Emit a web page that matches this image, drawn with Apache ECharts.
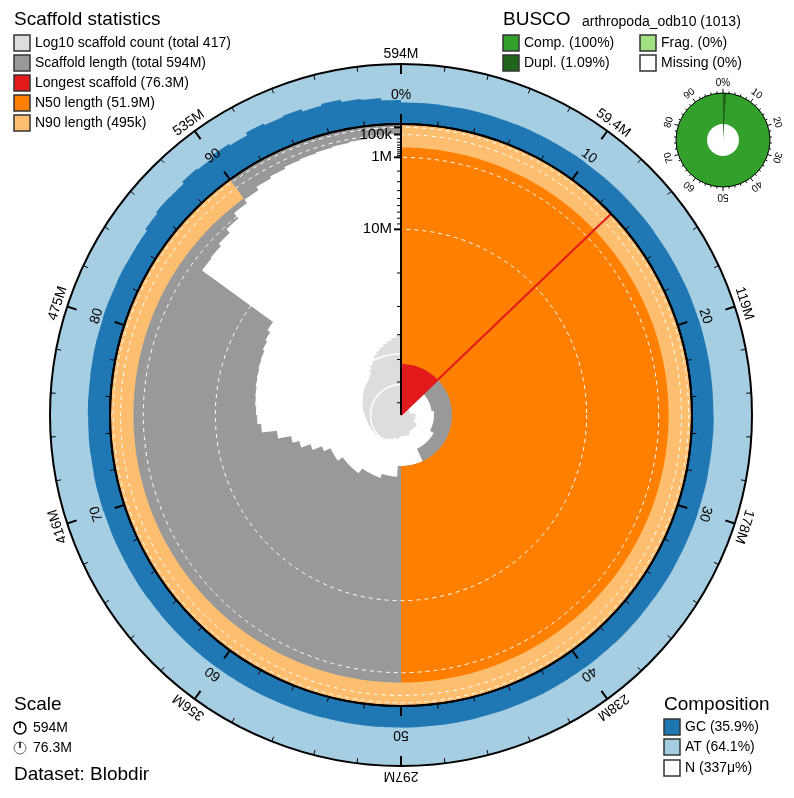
<!DOCTYPE html>
<html>
<head>
<meta charset="utf-8">
<script src="https://cdn.jsdelivr.net/npm/echarts@6/dist/echarts.min.js"></script>
<style>
html, body { margin: 0; padding: 0; background: #fff; }
#chart { width: 794px; height: 798px; }
</style>
</head>
<body>
<div id="chart"></div>
<script>
// assembly summary
var longestMb = 76.3;
var n50Mb = 51.9;
var n90Mb = 0.495;
var longestPct = 12.84;

// scaffold length (Mb) at each 1% of the assembly
var lengthByPct = [
  76.3, 76.3, 76.3, 76.3, 76.3, 76.3, 76.3, 76.3, 76.3, 76.3, 76.3, 76.3, 76.3,
  61, 61, 61, 61, 61, 61, 61, 61, 61, 61,
  60, 60, 60, 60, 60, 60, 60, 60, 60, 60,
  58, 58, 58, 58, 58, 58, 58, 58, 58, 58,
  51.9, 51.9, 51.9, 51.9, 51.9, 51.9, 51.9, 51.9,
  47.3, 47.3, 47.3, 47.3,
  45.6, 45.6, 45.6, 45.6, 45.6, 43.2, 43.2, 43.2, 43.2, 43.2,
  40.9, 40.9, 40.9, 38.2, 34.6, 31.2, 28.9, 24.8, 20.5, 19.5,
  19.2, 18.9, 18.7, 18.4, 18.2, 17.9, 17.7, 17.2, 16.7, 15.9,
  1.83, 1.75, 1.51, 1.17, 0.76, 0.56, 0.40, 0.325, 0.26, 0.23,
  0.203, 0.177, 0.152, 0.13, 0.09
];

// cumulative scaffold count at each 1% (log10 spiral)
var countByPct = [
  1, 1, 1, 1, 1, 1, 1, 1, 1, 1, 1, 1, 1,
  2, 2, 2, 2, 2, 2, 2, 2, 2, 2,
  3, 3, 3, 3, 3, 3, 3, 3, 3, 3,
  4, 4, 4, 4, 4, 4, 4, 4, 4, 4,
  5, 5, 5, 5, 5, 5, 5, 5,
  6, 6, 6, 6,
  7, 7, 8, 8, 9, 9, 10, 10, 10, 11, 11, 11, 12, 12, 12, 13, 13, 14, 14,
  15, 16, 17, 18, 19, 20, 22, 23, 25, 27, 29, 31, 33, 35, 38,
  45, 60, 80, 105, 135, 165, 200, 240, 285, 340, 417
];

// GC % at each 1%
var gcByPct = [
  35.8, 36.0, 35.7, 36.1, 35.9, 35.6, 36.0,
  35.9, 35.8, 36.2, 35.7, 35.9, 36.0, 35.8,
  36.1, 35.6, 35.9, 35.8, 36.0, 35.7, 36.1,
  35.9, 36.0, 35.8, 35.6, 36.2, 35.9, 35.7,
  36.0, 35.8, 36.1, 35.9, 35.7, 36.0, 35.8,
  35.6, 35.9, 36.1, 35.8, 36.0, 35.7, 35.9,
  36.2, 35.8, 35.9, 35.7, 36.0, 35.9, 35.6,
  36.1, 35.8, 36.0, 35.9, 35.7, 36.1, 35.8,
  35.9, 36.0, 35.7, 35.8, 36.2, 35.9, 36.0,
  35.8, 35.6, 36.1, 35.9, 35.8, 36.0, 35.7,
  36.3, 36.6, 36.2, 36.8, 36.5, 37.0, 36.7,
  37.2, 37.5, 37.1, 37.8, 37.4, 38.0, 37.6,
  38, 42, 45, 44, 48, 46, 50, 47, 52, 49, 51, 47, 50, 46, 44, 40
];

var gridMb = [0.01, 0.1, 1, 10];
var radialMajorMb = [0.01, 0.1, 1, 10];
var radialMajorLabels = ['', '100k', '1M', '10M'];
var radialMinorMb = [0.2, 0.3, 0.4, 0.5, 0.6, 0.7, 0.8, 0.9, 2, 3, 4, 5, 6, 7, 8, 9, 20, 30, 40, 50, 60, 70];
var countGrid = [10, 100];

var pctTicks = [0, 10, 20, 30, 40, 50, 60, 70, 80, 90];
var pctLabels = ['0%', '10', '20', '30', '40', '50', '60', '70', '80', '90'];
var lengthLabels = ['594M', '59.4M', '119M', '178M', '238M', '297M', '356M', '416M', '475M', '535M'];

var buscoDuplPct = 1.09;

var FONT = '"Liberation Sans", Arial, sans-serif';
var C = {
  count: '#dddddd', length: '#999999', longest: '#e31a1c', n50: '#ff7f00', n90: '#fdbf6f',
  gc: '#1f78b4', at: '#a6cee3', comp: '#33a02c', dupl: '#20641c', frag: '#a3e283'
};

function toU(mb) { return 1 - Math.sqrt(mb / longestMb); }

function arcPts(api, rv, a0, a1) {
  var n = Math.max(2, Math.ceil(Math.abs(a1 - a0) / 0.25) + 1);
  var pts = [];
  for (var k = 0; k < n; k++) pts.push(api.coord([rv, a0 + (a1 - a0) * k / (n - 1)]));
  return pts;
}
function band(api, a0, a1, r0, r1) {
  return arcPts(api, r1, a0, a1).concat(arcPts(api, r0, a1, a0));
}
function pxR(api, cs, rv) {
  var p = api.coord([rv, 0]);
  return Math.sqrt((p[0] - cs.cx) * (p[0] - cs.cx) + (p[1] - cs.cy) * (p[1] - cs.cy));
}
function labelAt(api, cs, refR, av, rpx, text, size) {
  var p = api.coord([refR, av]);
  var dx = p[0] - cs.cx, dy = p[1] - cs.cy, d = Math.sqrt(dx * dx + dy * dy);
  var phi = Math.atan2(dx, -dy);
  return {
    type: 'text', x: cs.cx + dx / d * rpx, y: cs.cy + dy / d * rpx, rotation: -phi,
    style: { text: text, fill: '#000', fontSize: size, fontFamily: FONT, align: 'center', verticalAlign: 'middle' }
  };
}

function renderCount(params, api) {
  var cs = params.coordSys;
  var pts = [];
  for (var i = 0; i < countByPct.length; i++) pts = pts.concat(arcPts(api, countByPct[i], i, i + 1));
  pts.push(api.coord([1, 0]));
  var kids = [{ type: 'polygon', shape: { points: pts }, style: { fill: C.count } }];
  countGrid.forEach(function (c) {
    kids.push({ type: 'circle', shape: { cx: cs.cx, cy: cs.cy, r: pxR(api, cs, c) },
      style: { fill: null, stroke: '#fff', lineWidth: 1.5 } });
  });
  return { type: 'group', children: kids };
}

function renderMain(params, api) {
  var cs = params.coordSys;
  var kids = [];
  var inner = [];
  for (var i = 0; i < lengthByPct.length; i++) inner = inner.concat(arcPts(api, toU(lengthByPct[i]), i, i + 1));
  kids.push({ type: 'polygon', shape: { points: inner.concat(arcPts(api, 1, 100, 0)) }, style: { fill: C.length } });
  kids.push({ type: 'polygon', shape: { points: band(api, 0, longestPct, 0, 1) }, style: { fill: C.longest } });
  kids.push({ type: 'polygon', shape: { points: band(api, 0, 50, toU(n50Mb), 1) }, style: { fill: C.n50 } });
  kids.push({ type: 'polygon', shape: { points: band(api, 0, 90, toU(n90Mb), 1) }, style: { fill: C.n90 } });
  gridMb.forEach(function (mb) {
    kids.push({ type: 'circle', shape: { cx: cs.cx, cy: cs.cy, r: pxR(api, cs, toU(mb)) },
      style: { fill: null, stroke: '#fff', lineWidth: 1, lineDash: [4, 4] } });
  });
  var p0 = api.coord([0, longestPct]), p1 = api.coord([1, longestPct]);
  kids.push({ type: 'line', shape: { x1: p0[0], y1: p0[1], x2: p1[0], y2: p1[1] },
    style: { stroke: C.longest, lineWidth: 2 } });
  // radial axis
  var a0 = api.coord([0, 0]), a1 = api.coord([1, 0]);
  kids.push({ type: 'line', shape: { x1: a0[0], y1: a0[1], x2: a1[0], y2: a1[1] }, style: { stroke: '#000', lineWidth: 2 } });
  radialMinorMb.forEach(function (mb) {
    var p = api.coord([toU(mb), 0]);
    kids.push({ type: 'line', shape: { x1: p[0] - 4, y1: p[1], x2: p[0], y2: p[1] }, style: { stroke: '#000', lineWidth: 1 } });
  });
  radialMajorMb.forEach(function (mb, k) {
    var p = api.coord([toU(mb), 0]);
    kids.push({ type: 'line', shape: { x1: p[0] - 7, y1: p[1], x2: p[0], y2: p[1] }, style: { stroke: '#000', lineWidth: 2 } });
    if (radialMajorLabels[k]) {
      kids.push({ type: 'text', x: p[0] - 9, y: p[1],
        style: { text: radialMajorLabels[k], fill: '#000', fontSize: 15, fontFamily: FONT, align: 'right', verticalAlign: 'middle' } });
    }
  });
  return { type: 'group', children: kids };
}

function renderComp(params, api) {
  var cs = params.coordSys;
  var kids = [];
  kids.push({ type: 'ring', shape: { cx: cs.cx, cy: cs.cy, r: pxR(api, cs, 100), r0: pxR(api, cs, 0) }, style: { fill: C.at } });
  var outer = [];
  for (var i = 0; i < gcByPct.length; i++) outer = outer.concat(arcPts(api, gcByPct[i], i, i + 1));
  kids.push({ type: 'polygon', shape: { points: outer.concat(arcPts(api, 0, 100, 0)) }, style: { fill: C.gc } });
  pctTicks.forEach(function (t, k) {
    kids.push(labelAt(api, cs, 100, t, 320, pctLabels[k], 14));
    kids.push(labelAt(api, cs, 100, t, 361, lengthLabels[k], 14));
  });
  return { type: 'group', children: kids };
}

function renderBusco(params, api) {
  var cs = params.coordSys;
  var kids = [];
  kids.push({ type: 'ring', shape: { cx: cs.cx, cy: cs.cy, r: pxR(api, cs, 1), r0: pxR(api, cs, 0.34) }, style: { fill: C.comp } });
  kids.push({ type: 'polygon', shape: { points: band(api, 0, buscoDuplPct, 0, 1) }, style: { fill: C.dupl } });
  pctTicks.forEach(function (t, k) {
    kids.push(labelAt(api, cs, 1, t, 57, pctLabels[k], 10));
  });
  return { type: 'group', children: kids };
}

function angleAxis(idx, show, opt) {
  return {
    polarIndex: idx, type: 'value', min: 0, max: 100, interval: 10, startAngle: 90, clockwise: true, z: 10,
    axisLine: { show: show, lineStyle: { color: '#000', width: opt ? opt.lw : 1 } },
    axisTick: { show: show, inside: opt ? opt.inside : false, length: opt ? opt.tl : 0, lineStyle: { color: '#000', width: opt ? opt.lw : 1 } },
    minorTick: { show: show, splitNumber: 5, length: opt ? opt.ml : 0, lineStyle: { color: '#000', width: 1 } },
    axisLabel: { show: false }, splitLine: { show: false }, minorSplitLine: { show: false }
  };
}
function radiusAxis(idx, type, min, max) {
  return {
    polarIndex: idx, type: type, min: min, max: max,
    axisLine: { show: false }, axisTick: { show: false }, axisLabel: { show: false }, splitLine: { show: false }
  };
}

function legendItem(x, y, fill, text) {
  return [
    { type: 'rect', shape: { x: x, y: y - 8, width: 16, height: 16 }, style: { fill: fill, stroke: '#333', lineWidth: 1.5 } },
    { type: 'text', x: x + 21, y: y, style: { text: text, fill: '#000', fontSize: 14, fontFamily: FONT, verticalAlign: 'middle' } }
  ];
}
function title(x, y, text, size) {
  return { type: 'text', x: x, y: y, style: { text: text, fill: '#000', fontSize: size, fontFamily: FONT, verticalAlign: 'middle' } };
}

var graphics = [].concat(
  [title(14, 20, 'Scaffold statistics', 19)],
  legendItem(14, 43, C.count, 'Log10 scaffold count (total 417)'),
  legendItem(14, 63, C.length, 'Scaffold length (total 594M)'),
  legendItem(14, 83, C.longest, 'Longest scaffold (76.3M)'),
  legendItem(14, 103, C.n50, 'N50 length (51.9M)'),
  legendItem(14, 123, C.n90, 'N90 length (495k)'),
  [title(503, 20, 'BUSCO', 19), title(582, 22, 'arthropoda_odb10 (1013)', 14)],
  legendItem(503, 43, C.comp, 'Comp. (100%)'),
  legendItem(503, 63, C.dupl, 'Dupl. (1.09%)'),
  legendItem(640, 43, C.frag, 'Frag. (0%)'),
  legendItem(640, 63, '#fff', 'Missing (0%)'),
  [title(664, 705, 'Composition', 19)],
  legendItem(664, 727, C.gc, 'GC (35.9%)'),
  legendItem(664, 747, C.at, 'AT (64.1%)'),
  legendItem(664, 768, '#fff', 'N (337\u03bc%)'),
  [title(14, 705, 'Scale', 19),
   { type: 'circle', shape: { cx: 20, cy: 728, r: 6 }, style: { fill: null, stroke: '#000', lineWidth: 1.5 } },
   { type: 'line', shape: { x1: 20, y1: 728, x2: 20, y2: 722 }, style: { stroke: '#000', lineWidth: 1.5 } },
   { type: 'text', x: 33, y: 728, style: { text: '594M', fill: '#000', fontSize: 14, fontFamily: FONT, verticalAlign: 'middle' } },
   { type: 'circle', shape: { cx: 20, cy: 748, r: 6 }, style: { fill: null, stroke: '#666', lineWidth: 1 } },
   { type: 'line', shape: { x1: 20, y1: 748, x2: 20, y2: 742 }, style: { stroke: '#000', lineWidth: 1.5 } },
   { type: 'text', x: 33, y: 748, style: { text: '76.3M', fill: '#000', fontSize: 14, fontFamily: FONT, verticalAlign: 'middle' } },
   title(14, 775, 'Dataset: Blobdir', 19)]
);

var chart = echarts.init(document.getElementById('chart'));
var option = {
  animation: false,
  polar: [
    { center: [401, 415], radius: [0, 291] },
    { center: [401, 415], radius: [291, 351] },
    { center: [401, 415], radius: [0, 80] },
    { center: [723, 140], radius: [0, 47] }
  ],
  angleAxis: [
    angleAxis(0, true, { lw: 2, inside: false, tl: 10, ml: 5 }),
    angleAxis(1, true, { lw: 2, inside: true, tl: 10, ml: 5 }),
    angleAxis(2, false),
    angleAxis(3, true, { lw: 1, inside: false, tl: 4, ml: 2 })
  ],
  radiusAxis: [
    radiusAxis(0, 'value', 0, 1),
    radiusAxis(1, 'value', 0, 100),
    radiusAxis(2, 'log', 1, 417),
    radiusAxis(3, 'value', 0, 1)
  ],
  series: [
    { type: 'custom', coordinateSystem: 'polar', polarIndex: 2, z: 1, clip: false, silent: true, data: [[0, 0]], renderItem: renderCount },
    { type: 'custom', coordinateSystem: 'polar', polarIndex: 0, z: 3, clip: false, silent: true, data: [[0, 0]], renderItem: renderMain },
    { type: 'custom', coordinateSystem: 'polar', polarIndex: 1, z: 2, clip: false, silent: true, data: [[0, 0]], renderItem: renderComp },
    { type: 'custom', coordinateSystem: 'polar', polarIndex: 3, z: 2, clip: false, silent: true, data: [[0, 0]], renderItem: renderBusco }
  ],
  graphic: graphics
};
chart.setOption(option);
</script>
</body>
</html>
